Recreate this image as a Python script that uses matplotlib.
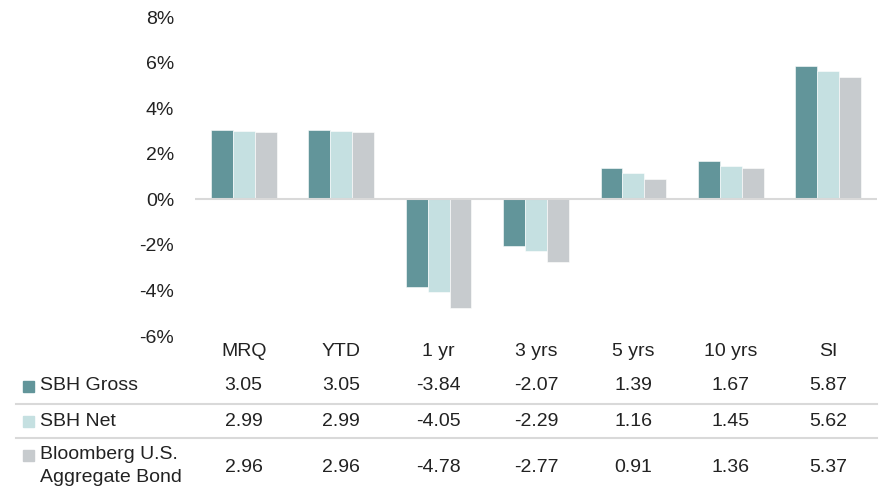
import matplotlib.pyplot as plt
import matplotlib.patches as mpatches
from matplotlib.transforms import blended_transform_factory

periodos = ['MRQ', 'YTD', '1 yr', '3 yrs', '5 yrs', '10 yrs', 'SI']
series = ['SBH Gross', 'SBH Net', 'Bloomberg U.S.\nAggregate Bond']
sbh_gross = [3.05, 3.05, -3.84, -2.07, 1.39, 1.67, 5.87]
sbh_net = [2.99, 2.99, -4.05, -2.29, 1.16, 1.45, 5.62]
bloomberg = [2.96, 2.96, -4.78, -2.77, 0.91, 1.36, 5.37]
yticks = [-6, -4, -2, 0, 2, 4, 6, 8]

cores = ['#62959a', '#c5e0e1', '#c7cbce']
valores = [sbh_gross, sbh_net, bloomberg]

plt.rcParams['font.family'] = ['Liberation Sans', 'DejaVu Sans']
W, H = 881, 492
fig = plt.figure(figsize=(W / 100, H / 100), dpi=100)
fs = 14


def fx(px):
    return px / W


def fy(py):
    return 1 - py / H


ax = fig.add_axes([fx(195), fy(336), fx(877) - fx(195), fy(17) - fy(336)])
ax.set_xlim(-0.5, len(periodos) - 0.5)
ax.set_ylim(-6, 8)

largura = 0.225
x = list(range(len(periodos)))
for i, (vals, cor) in enumerate(zip(valores, cores)):
    pos = [xi + (i - 1) * largura for xi in x]
    ax.bar(pos, vals, width=largura, color=cor, edgecolor='white', linewidth=0.4, zorder=2)

ax.axhline(0, color='#d9d9d9', linewidth=1.5, zorder=3)
for s in ax.spines.values():
    s.set_visible(False)
ax.set_xticks([])
ax.set_yticks(yticks)
ax.set_yticklabels([f'{v}%' for v in yticks], fontsize=fs, color='#222222')
ax.tick_params(axis='y', length=0, pad=15)

# tabela embaixo do grafico
trans = blended_transform_factory(ax.transData, fig.transFigure)
for xi, p in zip(x, periodos):
    fig.text(xi, fy(352), p, transform=trans, ha='center', va='center', fontsize=fs, color='#222222')

linhas_y = [385, 421, 467]
for vals, yy in zip(valores, linhas_y):
    for xi, v in zip(x, vals):
        fig.text(xi, fy(yy), f'{v:.2f}', transform=trans, ha='center', va='center', fontsize=fs, color='#222222')

for nome, cor, yy in zip(series, cores, [386, 421, 455]):
    fig.patches.append(mpatches.Rectangle((fx(23), fy(yy + 6)), fx(11), fy(0) - fy(11),
                                          transform=fig.transFigure, color=cor))
    if '\n' in nome:
        fig.text(fx(40), fy(466), nome, ha='left', va='center', fontsize=fs, color='#222222', linespacing=1.45)
    else:
        fig.text(fx(40), fy(yy), nome, ha='left', va='center', fontsize=fs, color='#222222')

for yy in [404, 438]:
    fig.add_artist(plt.Line2D([fx(16), fx(877)], [fy(yy), fy(yy)], color='#d9d9d9', linewidth=1.5))

fig.savefig('out.png', dpi=100)
